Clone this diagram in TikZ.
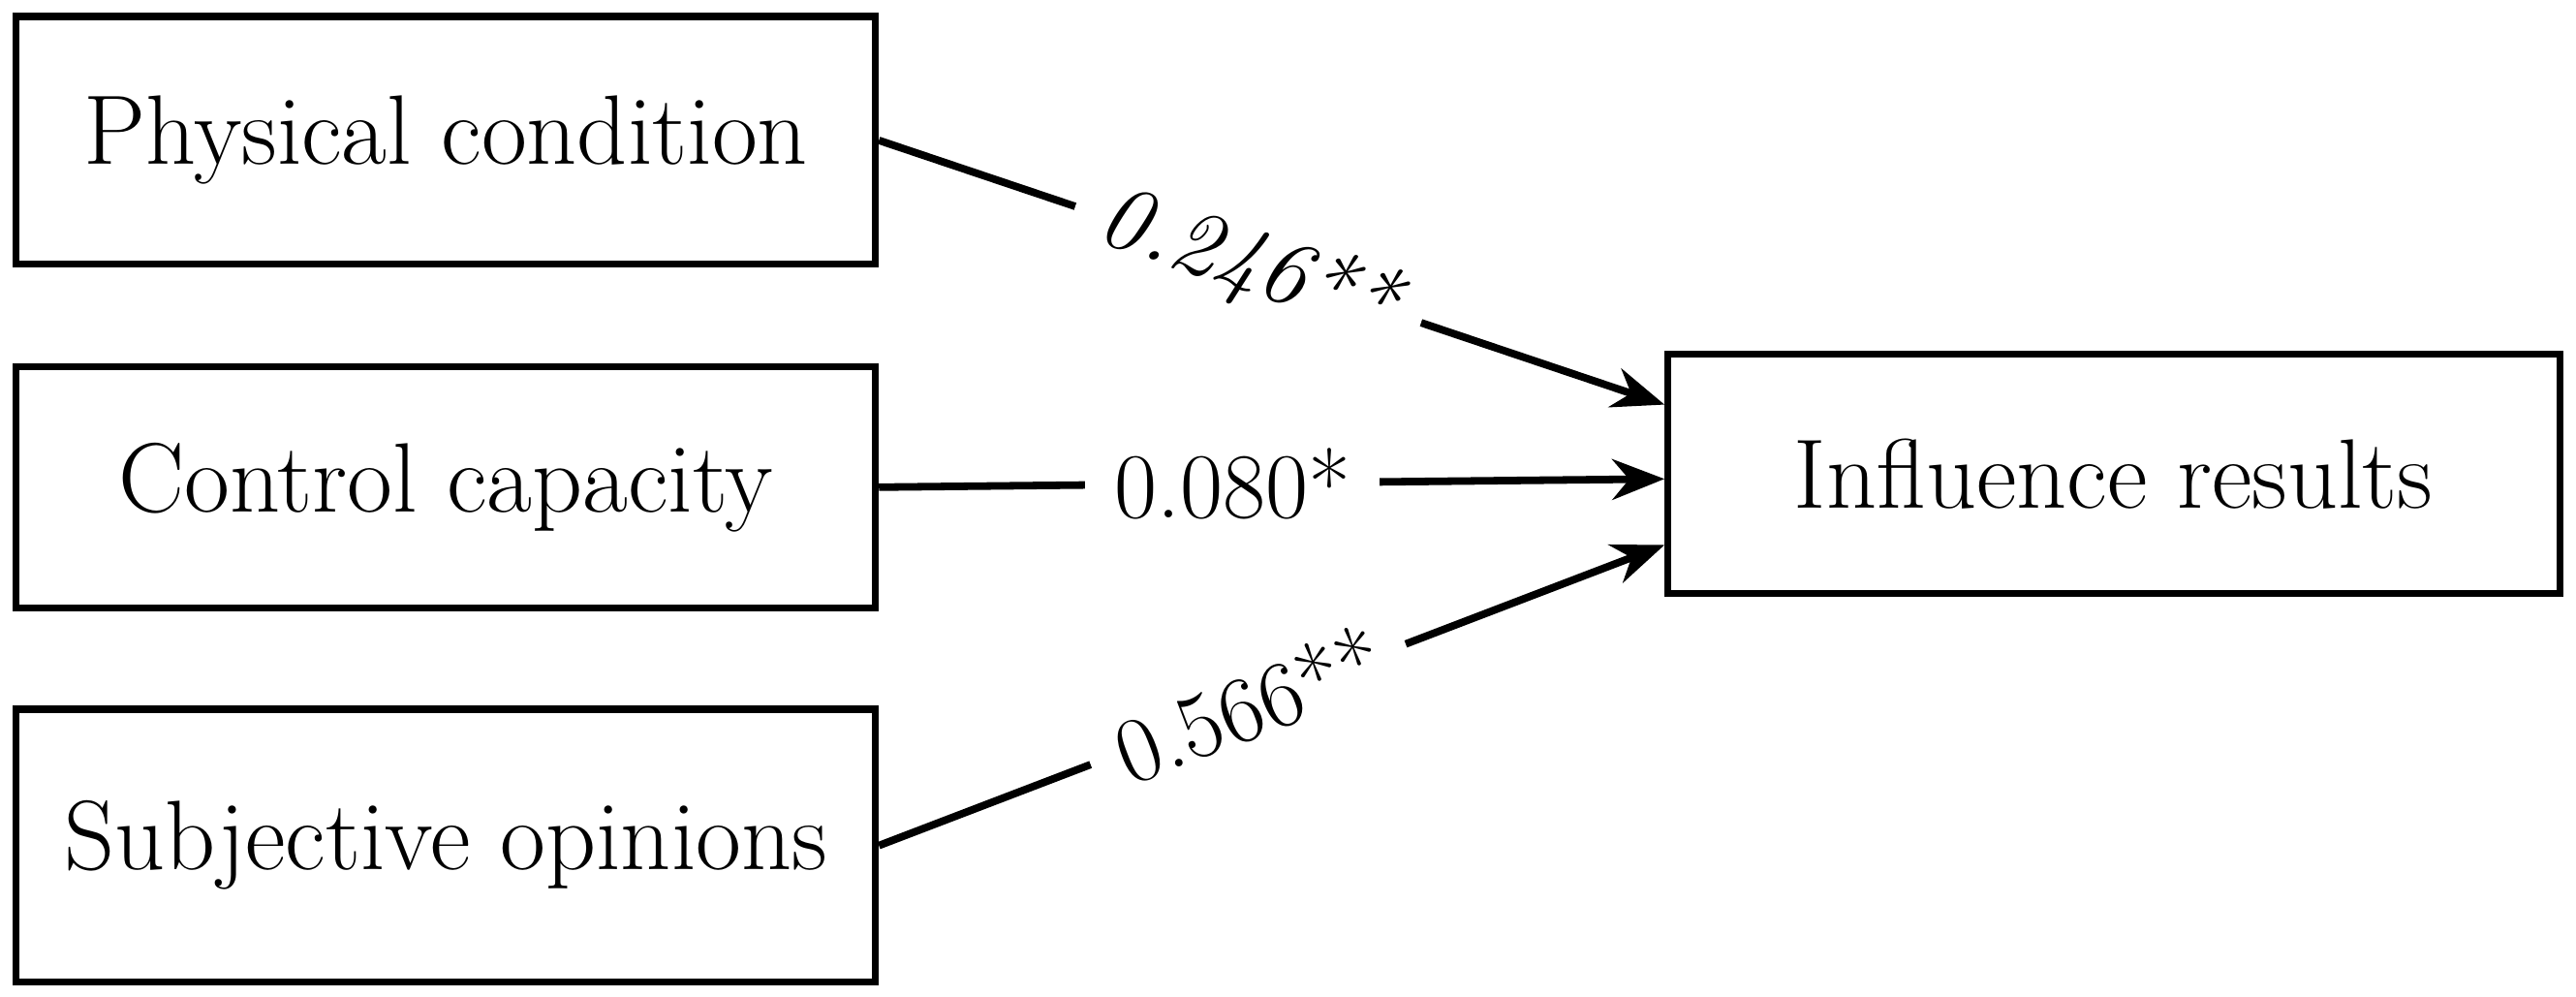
\documentclass[tikz,border=0pt]{standalone}
\usetikzlibrary{arrows.meta}
\begin{document}
\begin{tikzpicture}[x=0.01cm,y=0.01cm,
  box/.style={draw,line width=1.2pt,inner sep=0pt,font=\fontsize{17}{20}\selectfont},
  conn/.style={line width=1.3pt,-{Stealth[length=9pt,width=7pt]}},
  lbl/.style={fill=white,inner sep=5pt,font=\fontsize{16}{19}\selectfont}]
\useasboundingbox (0,0) rectangle (1560,-603.5);
\node[box,minimum width=5.2cm,minimum height=1.5cm] (p) at (270,-85) {Physical condition};
\node[box,minimum width=5.2cm,minimum height=1.46cm] (c) at (270,-295) {Control capacity};
\node[box,minimum width=5.2cm,minimum height=1.65cm] (s) at (270,-512) {Subjective opinions};
\node[box,minimum width=5.4cm,minimum height=1.45cm] (r) at (1280,-287) {Influence results};
\coordinate (r1) at (1008,-245);
\coordinate (r2) at (1008,-290);
\coordinate (r3) at (1008,-330);
\draw[conn] (p.east) -- node[lbl,sloped,pos=0.47]{\itshape 0.246**} (r1);
\draw[conn] (c.east) -- node[lbl,pos=0.45]{0.080*} (r2);
\draw[conn] (s.east) -- node[lbl,sloped,pos=0.47]{0.566**} (r3);
\end{tikzpicture}
\end{document}
